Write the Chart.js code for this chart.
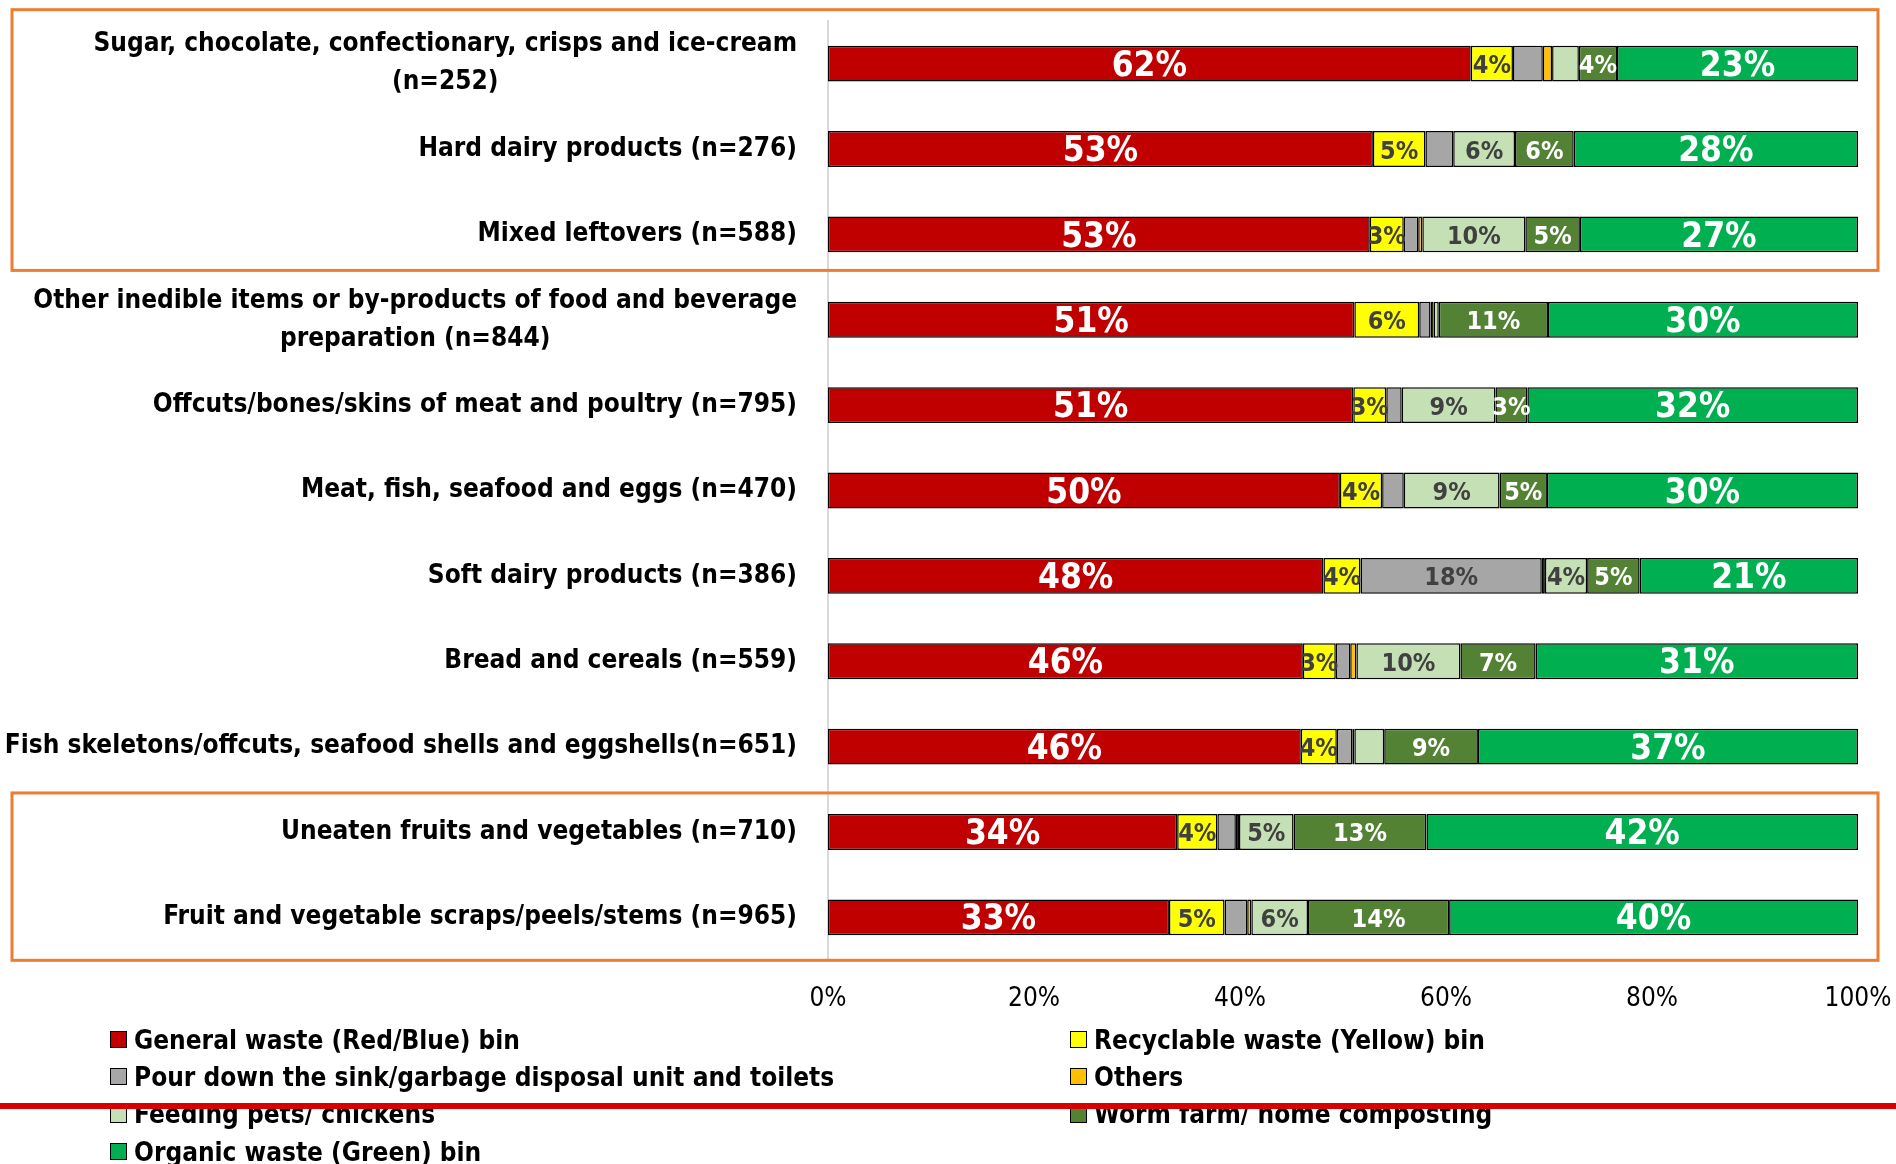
<!DOCTYPE html>
<html>
<head>
<meta charset="utf-8">
<script src="https://cdn.jsdelivr.net/npm/chart.js@4.4.1/dist/chart.umd.min.js"></script>
<style>
  html, body { margin: 0; padding: 0; background: #fff; }
  #wrap { position: relative; width: 1896px; height: 1164px; overflow: hidden; }
  #legend {
    position: absolute; left: 110px; top: 1021px;
    display: grid; grid-template-columns: 960px auto; grid-auto-rows: 37.3px;
    font: bold 26px 'DejaVu Sans Condensed', 'DejaVu Sans', sans-serif; color: #000;
  }
  #legend .item { display: flex; align-items: center; white-space: nowrap; }
  #legend .box { width: 15px; height: 15px; border: 1.5px solid #000; margin-right: 7px; }
  #redline { position: absolute; left: 0; top: 1103px; width: 1896px; height: 6px; background: #d60000; z-index: 2; }
</style>
</head>
<body>
<div id="wrap">
  <canvas id="myChart" width="1896" height="1164"></canvas>
  <div id="legend"></div>
  <div id="redline"></div>
</div>
<script>
const categories = [
  ['Sugar, chocolate, confectionary, crisps and ice-cream', '(n=252)'],
  'Hard dairy products (n=276)',
  'Mixed leftovers (n=588)',
  ['Other inedible items or by-products of food and beverage', 'preparation (n=844)'],
  'Offcuts/bones/skins of meat and poultry (n=795)',
  'Meat, fish, seafood and eggs (n=470)',
  'Soft dairy products (n=386)',
  'Bread and cereals (n=559)',
  'Fish skeletons/offcuts, seafood shells and eggshells(n=651)',
  'Uneaten fruits and vegetables (n=710)',
  'Fruit and vegetable scraps/peels/stems (n=965)'
];

// percentages per disposal route, one value per category (top to bottom)
const generalWaste = [62.4, 52.9, 52.6, 51.1, 51.0, 49.7, 48.1, 46.1, 45.9, 33.9, 33.1];
const recyclable   = [4.1, 5.1, 3.3, 6.3, 3.2, 4.1, 3.6, 3.2, 3.5, 3.9, 5.4];
const pourDown     = [2.9, 2.7, 1.4, 1.1, 1.5, 2.1, 17.6, 1.4, 1.5, 1.8, 2.2];
const others       = [0.9, 0.0, 0.4, 0.3, 0.0, 0.0, 0.3, 0.6, 0.2, 0.3, 0.4];
const feedingPets  = [2.6, 6.0, 10.0, 0.5, 9.1, 9.3, 4.1, 10.1, 2.9, 5.3, 5.5];
const wormFarm     = [3.7, 5.7, 5.3, 10.6, 3.1, 4.6, 5.1, 7.3, 9.1, 12.9, 13.7];
const organicWaste = [23.4, 27.6, 27.0, 30.1, 32.1, 30.2, 21.2, 31.3, 36.9, 41.9, 39.7];

const xTicks = [0, 20, 40, 60, 80, 100];

const FONT = "'DejaVu Sans Condensed', 'DejaVu Sans', sans-serif";

const series = [
  { label: 'General waste (Red/Blue) bin', data: generalWaste, color: '#C00000', text: '#fff', big: true },
  { label: 'Recyclable waste (Yellow) bin', data: recyclable, color: '#FFFF00', text: '#404040' },
  { label: 'Pour down the sink/garbage disposal unit and toilets', data: pourDown, color: '#A6A6A6', text: '#404040' },
  { label: 'Others', data: others, color: '#FFC000', text: '#404040' },
  { label: 'Feeding pets/ chickens', data: feedingPets, color: '#C5E0B4', text: '#404040' },
  { label: 'Worm farm/ home composting', data: wormFarm, color: '#548235', text: '#fff' },
  { label: 'Organic waste (Green) bin', data: organicWaste, color: '#00B050', text: '#fff', big: true }
];

// segment labels (no datalabels plugin available)
const segmentLabels = {
  id: 'segmentLabels',
  afterDatasetsDraw(chart) {
    const ctx = chart.ctx;
    ctx.save();
    ctx.textAlign = 'center';
    ctx.textBaseline = 'middle';
    chart.data.datasets.forEach((ds, i) => {
      const meta = chart.getDatasetMeta(i);
      const s = series[i];
      ctx.font = 'bold ' + (s.big ? 35 : 25) + 'px ' + FONT;
      ctx.fillStyle = s.text;
      meta.data.forEach((bar, j) => {
        const v = ds.data[j];
        if (v < 3) return;
        ctx.fillText(Math.round(v) + '%', (bar.x + bar.base) / 2, bar.y + 3);
      });
    });
    ctx.restore();
  }
};

// category labels: block right aligned, lines centred inside the block
const categoryLabels = {
  id: 'categoryLabels',
  afterDraw(chart) {
    const ctx = chart.ctx;
    const y = chart.scales.y;
    const right = chart.chartArea.left - 31;
    const lineH = 38;
    ctx.save();
    ctx.font = 'bold 26px ' + FONT;
    ctx.fillStyle = '#000';
    ctx.textAlign = 'center';
    ctx.textBaseline = 'middle';
    categories.forEach((c, i) => {
      const lines = Array.isArray(c) ? c : [c];
      const w = Math.max(...lines.map(l => ctx.measureText(l).width));
      const cx = right - w / 2;
      const cy = y.getPixelForValue(i);
      lines.forEach((l, k) => {
        ctx.fillText(l, cx, cy + (k - (lines.length - 1) / 2) * lineH);
      });
    });
    ctx.restore();
  }
};

// orange highlight boxes around the top three and bottom two categories
const highlightBoxes = {
  id: 'highlightBoxes',
  afterDraw(chart) {
    const ctx = chart.ctx;
    const y = chart.scales.y;
    ctx.save();
    ctx.strokeStyle = '#ED7D31';
    ctx.lineWidth = 3;
    const t1 = y.getPixelForValue(0) - 54, b1 = y.getPixelForValue(2) + 36;
    const t2 = y.getPixelForValue(9) - 39, b2 = y.getPixelForValue(10) + 43;
    ctx.strokeRect(12, t1, 1866, b1 - t1);
    ctx.strokeRect(12, t2, 1866, b2 - t2);
    ctx.restore();
  }
};

const ctx = document.getElementById('myChart');
const myChart = new Chart(ctx, {
  type: 'bar',
  data: {
    labels: categories,
    datasets: series.map(s => ({
      label: s.label,
      data: s.data,
      backgroundColor: s.color,
      borderColor: '#000',
      borderWidth: 1.5,
      borderSkipped: false,
      categoryPercentage: 1,
      barPercentage: 0.42
    }))
  },
  options: {
    indexAxis: 'y',
    responsive: false,
    animation: false,
    devicePixelRatio: 1,
    layout: { padding: { left: 828, right: 38, top: 21, bottom: 144 } },
    plugins: { legend: { display: false }, tooltip: { enabled: false } },
    scales: {
      x: {
        stacked: true,
        min: 0,
        max: 100,
        afterBuildTicks: axis => { axis.ticks = xTicks.map(v => ({ value: v })); },
        // fixed axis size; the 100% label may hang into the right padding
        afterFit: axis => { axis.paddingLeft = 0; axis.paddingRight = 0; axis.height = 60; },
        ticks: {
          padding: 24,
          maxRotation: 0,
          color: '#000',
          font: { family: FONT, size: 26 },
          callback: v => v + '%'
        },
        grid: { display: false, drawTicks: false },
        border: { display: false }
      },
      y: {
        stacked: true,
        ticks: { display: false },
        grid: { display: false, drawTicks: false },
        border: { color: '#d9d9d9', width: 2 }
      }
    }
  },
  plugins: [segmentLabels, categoryLabels, highlightBoxes]
});

// two-column legend built from the datasets
const legend = document.getElementById('legend');
myChart.data.datasets.forEach(ds => {
  const item = document.createElement('div');
  item.className = 'item';
  const box = document.createElement('span');
  box.className = 'box';
  box.style.background = ds.backgroundColor;
  item.appendChild(box);
  item.appendChild(document.createTextNode(ds.label));
  legend.appendChild(item);
});
</script>
</body>
</html>
